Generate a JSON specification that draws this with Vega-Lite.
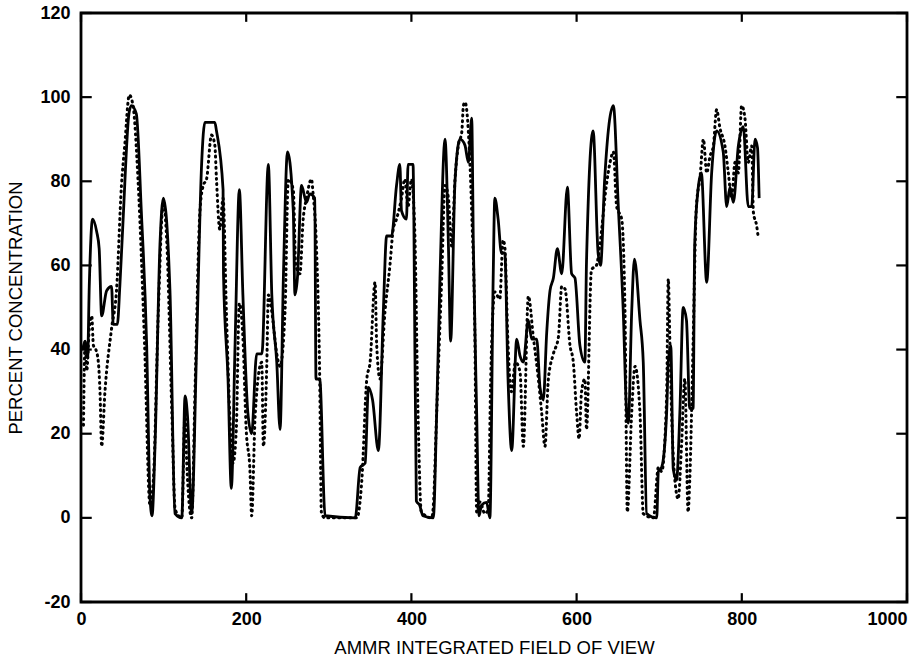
{
  "$schema": "https://vega.github.io/schema/vega-lite/v6.json",
  "width": 826,
  "height": 589,
  "autosize": {"type": "none"},
  "padding": {"left": 81, "top": 13, "right": 4, "bottom": 61},
  "background": "white",
  "config": {
    "view": {"stroke": "black", "strokeWidth": 2.8},
    "axis": {
      "domain": false,
      "ticks": false,
      "tickSize": 0,
      "grid": false,
      "labelFont": "Liberation Sans",
      "labelFontWeight": "bold",
      "labelFontSize": 18,
      "labelColor": "black",
      "titleFont": "Liberation Sans",
      "titleFontWeight": "normal",
      "titleFontSize": 18.5,
      "titleColor": "black"
    }
  },
  "datasets": {
    "xticks": [{"v": 0}, {"v": 200}, {"v": 400}, {"v": 600}, {"v": 800}, {"v": 1000}],
    "yticks": [{"v": -20}, {"v": 0}, {"v": 20}, {"v": 40}, {"v": 60}, {"v": 80}, {"v": 100}, {"v": 120}],
    "solid": [
      {"x": 2, "y": 40}, {"x": 5, "y": 42}, {"x": 8, "y": 38}, {"x": 10, "y": 55}, {"x": 14, "y": 71}, {"x": 19, "y": 68}, {"x": 22, "y": 64}, {"x": 25, "y": 48}, {"x": 31, "y": 54}, {"x": 37, "y": 55}, {"x": 39, "y": 46}, {"x": 44, "y": 46}, {"x": 47, "y": 55}, {"x": 51, "y": 71}, {"x": 58, "y": 96}, {"x": 61, "y": 98}, {"x": 67, "y": 96}, {"x": 73, "y": 73}, {"x": 79.5, "y": 41}, {"x": 83.5, "y": 5}, {"x": 86, "y": 0.5}, {"x": 89.6, "y": 17}, {"x": 95.6, "y": 65}, {"x": 99.7, "y": 76}, {"x": 107.7, "y": 54}, {"x": 113.8, "y": 1}, {"x": 122, "y": 0}, {"x": 126, "y": 29}, {"x": 129, "y": 24}, {"x": 134, "y": 1}, {"x": 140, "y": 41}, {"x": 146, "y": 84}, {"x": 150, "y": 94}, {"x": 162, "y": 94}, {"x": 164, "y": 92}, {"x": 172, "y": 78}, {"x": 172.5, "y": 58}, {"x": 178, "y": 33}, {"x": 182, "y": 7}, {"x": 186.5, "y": 41}, {"x": 191.7, "y": 78}, {"x": 196, "y": 53}, {"x": 202, "y": 25}, {"x": 206.6, "y": 20}, {"x": 212.7, "y": 39}, {"x": 219, "y": 39}, {"x": 226.8, "y": 84}, {"x": 231, "y": 53}, {"x": 237, "y": 37}, {"x": 241, "y": 21}, {"x": 245, "y": 57}, {"x": 250, "y": 87}, {"x": 257, "y": 73}, {"x": 259, "y": 53}, {"x": 262, "y": 57}, {"x": 267, "y": 79}, {"x": 273, "y": 75}, {"x": 277, "y": 77}, {"x": 283, "y": 76}, {"x": 284.5, "y": 33}, {"x": 289, "y": 33}, {"x": 295.5, "y": 0.5}, {"x": 332, "y": 0}, {"x": 338, "y": 12}, {"x": 344, "y": 13}, {"x": 348, "y": 31}, {"x": 353, "y": 28}, {"x": 360, "y": 16}, {"x": 366, "y": 49}, {"x": 370, "y": 67}, {"x": 376, "y": 67}, {"x": 382, "y": 79}, {"x": 386, "y": 84}, {"x": 388, "y": 73}, {"x": 394, "y": 71}, {"x": 396, "y": 84}, {"x": 402, "y": 84}, {"x": 403, "y": 71}, {"x": 406, "y": 4}, {"x": 410, "y": 3}, {"x": 414, "y": 0.5}, {"x": 426.5, "y": 0}, {"x": 430.6, "y": 25}, {"x": 434.6, "y": 57}, {"x": 440.7, "y": 90}, {"x": 444.8, "y": 65}, {"x": 447.5, "y": 42}, {"x": 452.8, "y": 80}, {"x": 458.8, "y": 90}, {"x": 464.8, "y": 88.6}, {"x": 469, "y": 84.5}, {"x": 473, "y": 95}, {"x": 475, "y": 65}, {"x": 479, "y": 25}, {"x": 481.8, "y": 0.5}, {"x": 485, "y": 3}, {"x": 491, "y": 3.7}, {"x": 495, "y": 0}, {"x": 499, "y": 57}, {"x": 501, "y": 76}, {"x": 505, "y": 71}, {"x": 509, "y": 63}, {"x": 513, "y": 63}, {"x": 517, "y": 33}, {"x": 521.4, "y": 16}, {"x": 527.5, "y": 42.5}, {"x": 531.5, "y": 38.5}, {"x": 535.5, "y": 37}, {"x": 541.6, "y": 47}, {"x": 545.6, "y": 42.5}, {"x": 551.7, "y": 42.5}, {"x": 555.7, "y": 31}, {"x": 559.7, "y": 28}, {"x": 563.8, "y": 44}, {"x": 567.8, "y": 54}, {"x": 571.9, "y": 57}, {"x": 576.7, "y": 64}, {"x": 582, "y": 58}, {"x": 588.8, "y": 78.6}, {"x": 594, "y": 58}, {"x": 598, "y": 57}, {"x": 604, "y": 41}, {"x": 610, "y": 37}, {"x": 612, "y": 61}, {"x": 620, "y": 92}, {"x": 626, "y": 63}, {"x": 629, "y": 60}, {"x": 634, "y": 80.5}, {"x": 644.5, "y": 98}, {"x": 650.5, "y": 74}, {"x": 656.5, "y": 49}, {"x": 660.6, "y": 25}, {"x": 662.6, "y": 22.5}, {"x": 666.7, "y": 49}, {"x": 670, "y": 61.5}, {"x": 676.7, "y": 47}, {"x": 680.7, "y": 37}, {"x": 684.8, "y": 1}, {"x": 697, "y": 0}, {"x": 699, "y": 11}, {"x": 703, "y": 12}, {"x": 709, "y": 25}, {"x": 711, "y": 37}, {"x": 714, "y": 41}, {"x": 717, "y": 11.6}, {"x": 721, "y": 9}, {"x": 725, "y": 25}, {"x": 729, "y": 50}, {"x": 733, "y": 47}, {"x": 737, "y": 26}, {"x": 741, "y": 26}, {"x": 743, "y": 65}, {"x": 747, "y": 78}, {"x": 751, "y": 82}, {"x": 757.5, "y": 56}, {"x": 763.5, "y": 82}, {"x": 769.5, "y": 92}, {"x": 777.5, "y": 87}, {"x": 781.7, "y": 74}, {"x": 785.7, "y": 78.6}, {"x": 789.8, "y": 75}, {"x": 795.8, "y": 88.4}, {"x": 801.8, "y": 93}, {"x": 807.8, "y": 74}, {"x": 812, "y": 74}, {"x": 816, "y": 90}, {"x": 819, "y": 88}, {"x": 821, "y": 76}
    ],
    "dotted": [
      {"x": 3, "y": 22}, {"x": 5, "y": 42}, {"x": 7, "y": 35}, {"x": 10, "y": 45}, {"x": 13, "y": 48}, {"x": 15, "y": 41}, {"x": 18, "y": 40}, {"x": 21, "y": 37}, {"x": 23, "y": 30}, {"x": 25, "y": 17}, {"x": 29, "y": 30}, {"x": 37, "y": 45}, {"x": 43, "y": 54}, {"x": 49, "y": 79}, {"x": 53, "y": 88.6}, {"x": 58.5, "y": 100.5}, {"x": 63, "y": 98}, {"x": 69, "y": 80.5}, {"x": 77, "y": 41}, {"x": 83.5, "y": 3}, {"x": 87.6, "y": 9}, {"x": 93.6, "y": 49}, {"x": 99.7, "y": 75}, {"x": 104, "y": 65}, {"x": 110, "y": 25}, {"x": 114, "y": 2}, {"x": 122, "y": 0}, {"x": 126, "y": 25}, {"x": 128, "y": 13}, {"x": 134, "y": 0}, {"x": 138, "y": 30}, {"x": 144, "y": 73}, {"x": 148, "y": 79}, {"x": 152, "y": 80.5}, {"x": 158, "y": 91}, {"x": 162, "y": 88.6}, {"x": 164, "y": 80.5}, {"x": 168, "y": 68.6}, {"x": 172, "y": 76}, {"x": 176, "y": 49}, {"x": 180, "y": 25}, {"x": 184, "y": 13}, {"x": 188, "y": 21}, {"x": 191.7, "y": 51}, {"x": 196, "y": 43}, {"x": 200, "y": 21}, {"x": 204.6, "y": 11}, {"x": 206.6, "y": 0.5}, {"x": 211, "y": 25}, {"x": 218.8, "y": 37}, {"x": 220.8, "y": 17}, {"x": 225, "y": 37}, {"x": 226.8, "y": 53}, {"x": 231, "y": 49}, {"x": 237, "y": 39}, {"x": 241, "y": 36}, {"x": 247, "y": 49}, {"x": 251, "y": 80.5}, {"x": 257, "y": 78}, {"x": 260, "y": 60}, {"x": 265, "y": 58}, {"x": 269, "y": 71}, {"x": 273, "y": 76}, {"x": 279, "y": 80.5}, {"x": 281, "y": 77}, {"x": 285, "y": 64.6}, {"x": 289, "y": 33}, {"x": 291, "y": 1.4}, {"x": 295, "y": 0}, {"x": 334, "y": 0}, {"x": 340, "y": 9}, {"x": 346, "y": 33}, {"x": 350, "y": 37}, {"x": 356, "y": 56}, {"x": 358, "y": 41}, {"x": 362, "y": 33}, {"x": 368, "y": 49}, {"x": 374, "y": 60}, {"x": 378, "y": 68.6}, {"x": 382, "y": 71}, {"x": 388, "y": 76}, {"x": 392, "y": 80.5}, {"x": 396, "y": 74}, {"x": 400, "y": 80.5}, {"x": 404, "y": 68.6}, {"x": 408, "y": 25}, {"x": 412, "y": 1.4}, {"x": 424.5, "y": 0}, {"x": 426.6, "y": 3}, {"x": 430.6, "y": 25}, {"x": 436.7, "y": 57}, {"x": 440.7, "y": 79}, {"x": 444.8, "y": 76}, {"x": 448.8, "y": 64.6}, {"x": 452.8, "y": 80.5}, {"x": 456.9, "y": 88.6}, {"x": 461, "y": 91.7}, {"x": 463, "y": 98}, {"x": 465, "y": 98.8}, {"x": 469, "y": 91.7}, {"x": 473, "y": 72.7}, {"x": 477, "y": 41}, {"x": 479, "y": 1.4}, {"x": 483, "y": 3.8}, {"x": 489, "y": 1}, {"x": 493, "y": 2}, {"x": 496, "y": 33}, {"x": 501, "y": 53.7}, {"x": 507, "y": 52}, {"x": 511, "y": 66}, {"x": 513, "y": 64.6}, {"x": 517, "y": 41}, {"x": 521, "y": 30}, {"x": 526, "y": 37}, {"x": 531.5, "y": 34.7}, {"x": 535.5, "y": 17}, {"x": 541.6, "y": 52.7}, {"x": 547.6, "y": 43}, {"x": 553.7, "y": 33}, {"x": 557.7, "y": 25}, {"x": 561.7, "y": 17}, {"x": 565.8, "y": 33}, {"x": 571.9, "y": 39}, {"x": 578, "y": 43}, {"x": 582, "y": 55}, {"x": 586, "y": 54.4}, {"x": 592, "y": 41}, {"x": 596, "y": 37}, {"x": 600, "y": 25}, {"x": 603, "y": 18.8}, {"x": 606, "y": 30}, {"x": 610, "y": 33}, {"x": 612, "y": 21}, {"x": 618, "y": 59}, {"x": 624, "y": 60}, {"x": 628, "y": 64.6}, {"x": 636, "y": 79}, {"x": 640.5, "y": 84.5}, {"x": 644.5, "y": 87}, {"x": 648.5, "y": 74}, {"x": 654.6, "y": 71}, {"x": 658.6, "y": 49}, {"x": 661.4, "y": 1.4}, {"x": 666.7, "y": 25}, {"x": 670.7, "y": 36}, {"x": 676.7, "y": 25}, {"x": 680.7, "y": 1}, {"x": 693, "y": 0}, {"x": 699, "y": 12}, {"x": 703, "y": 11}, {"x": 709, "y": 29}, {"x": 711, "y": 56.8}, {"x": 713, "y": 41}, {"x": 715, "y": 25}, {"x": 719, "y": 9}, {"x": 723, "y": 4.5}, {"x": 727, "y": 17}, {"x": 731, "y": 33}, {"x": 735, "y": 1.4}, {"x": 737, "y": 9}, {"x": 741, "y": 41}, {"x": 745, "y": 74}, {"x": 749.5, "y": 81}, {"x": 753.5, "y": 90}, {"x": 757.5, "y": 82}, {"x": 761.6, "y": 86}, {"x": 765.6, "y": 88.4}, {"x": 769.5, "y": 97}, {"x": 773.6, "y": 92.6}, {"x": 779.6, "y": 88.4}, {"x": 783.7, "y": 82}, {"x": 787.7, "y": 76}, {"x": 791.8, "y": 84.5}, {"x": 795.8, "y": 82}, {"x": 799.8, "y": 98}, {"x": 803.8, "y": 95}, {"x": 807.8, "y": 84.5}, {"x": 812, "y": 88.4}, {"x": 814, "y": 72.7}, {"x": 818, "y": 69.4}, {"x": 820, "y": 66.5}
    ]
  },
  "layer": [
    {
      "data": {"name": "solid"},
      "mark": {"type": "line", "color": "black", "strokeWidth": 2.8, "strokeJoin": "round", "interpolate": "monotone"},
      "encoding": {
        "x": {
          "field": "x", "type": "quantitative",
          "scale": {"domain": [0, 1000], "nice": false},
          "axis": {"orient": "bottom", "values": [0, 200, 400, 600, 800, 1000], "labelPadding": 8, "labelExpr": "'' + datum.value", "labelAlign": {"condition": {"test": "datum.value == 1000", "value": "right"}, "value": "center"}, "labelFlush": false, "title": "AMMR INTEGRATED FIELD OF VIEW", "titlePadding": 10}
        },
        "y": {
          "field": "y", "type": "quantitative",
          "scale": {"domain": [-20, 120], "nice": false, "zero": false},
          "axis": {"orient": "left", "values": [-20, 0, 20, 40, 60, 80, 100, 120], "labelPadding": 11, "labelExpr": "'' + datum.value", "labelFlush": false, "title": "PERCENT CONCENTRATION", "titlePadding": 14}
        }
      }
    },
    {
      "data": {"name": "dotted"},
      "mark": {"type": "line", "color": "black", "strokeWidth": 3, "strokeDash": [1, 4.5], "strokeCap": "round", "interpolate": "monotone"},
      "encoding": {
        "x": {"field": "x", "type": "quantitative", "axis": null},
        "y": {"field": "y", "type": "quantitative", "axis": null}
      }
    },
    {
      "data": {"name": "xticks"},
      "mark": {"type": "rule", "color": "black", "strokeWidth": 2.2},
      "encoding": {
        "x": {"field": "v", "type": "quantitative", "axis": null},
        "y": {"datum": -20, "type": "quantitative", "axis": null},
        "y2": {"datum": -17.9}
      }
    },
    {
      "data": {"name": "xticks"},
      "mark": {"type": "rule", "color": "black", "strokeWidth": 2.2},
      "encoding": {
        "x": {"field": "v", "type": "quantitative", "axis": null},
        "y": {"datum": 120, "type": "quantitative", "axis": null},
        "y2": {"datum": 117.9}
      }
    },
    {
      "data": {"name": "yticks"},
      "mark": {"type": "rule", "color": "black", "strokeWidth": 2.2},
      "encoding": {
        "y": {"field": "v", "type": "quantitative", "axis": null},
        "x": {"datum": 0, "type": "quantitative", "axis": null},
        "x2": {"datum": 13}
      }
    },
    {
      "data": {"name": "yticks"},
      "mark": {"type": "rule", "color": "black", "strokeWidth": 2.2},
      "encoding": {
        "y": {"field": "v", "type": "quantitative", "axis": null},
        "x": {"datum": 1000, "type": "quantitative", "axis": null},
        "x2": {"datum": 987}
      }
    }
  ],
  "resolve": {"axis": {"x": "independent", "y": "independent"}}
}
